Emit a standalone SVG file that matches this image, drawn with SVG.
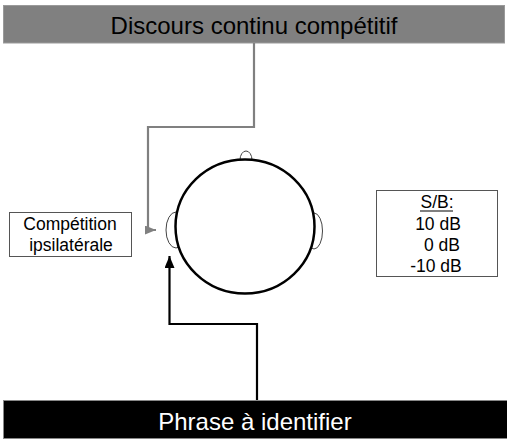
<svg xmlns="http://www.w3.org/2000/svg" width="507" height="447" viewBox="0 0 507 447">
<defs>
<style>
text{font-family:"Liberation Sans",Arial,sans-serif;}
.big{font-size:24px;text-anchor:middle;}
.sm{font-size:17.5px;text-anchor:middle;fill:#000;}
.box{fill:#fff;stroke:#555;stroke-width:1;}
.ear{fill:#fff;stroke:#444;stroke-width:1;}
</style>
<marker id="ag" markerUnits="userSpaceOnUse" markerWidth="12" markerHeight="10" refX="11" refY="4.5" orient="auto">
<path d="M0,0 L11,4.5 L0,9 Z" fill="#808080"/>
</marker>
<marker id="ab" markerUnits="userSpaceOnUse" markerWidth="13" markerHeight="11" refX="12" refY="5" orient="auto">
<path d="M0,0 L12,5 L0,10 Z" fill="#000"/>
</marker>
</defs>
<rect width="507" height="447" fill="#fff"/>
<g id="top-bar">
<rect x="3.5" y="5.5" width="501" height="37.5" fill="#808080" stroke="#9a9a9a" stroke-width="1"/>
<text class="big" x="254" y="33.5" fill="#000">Discours continu compétitif</text>
</g>
<g id="bottom-bar">
<rect x="3.5" y="400.5" width="504" height="38" fill="#000" stroke="#888" stroke-width="1"/>
<text class="big" x="255" y="430" fill="#fff">Phrase à identifier</text>
</g>
<g id="connectors">
<path d="M254,43 V127 H148 V230 H156" fill="none" stroke="#808080" stroke-width="2.2" marker-end="url(#ag)"/>
<path d="M257,400 V324 H169.5 V256" fill="none" stroke="#000" stroke-width="2.2" marker-end="url(#ab)"/>
</g>
<g id="head">
<ellipse class="ear" cx="176" cy="230" rx="10" ry="18"/>
<ellipse class="ear" cx="314" cy="231" rx="8.5" ry="18"/>
<ellipse class="ear" cx="246" cy="160" rx="6" ry="9"/>
<ellipse cx="245" cy="226.5" rx="69.5" ry="67" fill="#fff" stroke="#000" stroke-width="2.5"/>
</g>
<g id="competition-box">
<rect class="box" x="9.5" y="212.5" width="122" height="44"/>
<text class="sm" x="70" y="230">Compétition</text>
<text class="sm" x="71" y="251">ipsilatérale</text>
</g>
<g id="sb-box">
<rect class="box" x="376.5" y="190.5" width="121" height="86"/>
<text class="sm" x="437" y="208">S/B:</text>
<line x1="420" y1="211" x2="453" y2="211" stroke="#000" stroke-width="1.2"/>
<text class="sm" x="438" y="230">10 dB</text>
<text class="sm" x="442" y="251">0 dB</text>
<text class="sm" x="436" y="272">-10 dB</text>
</g>
</svg>
